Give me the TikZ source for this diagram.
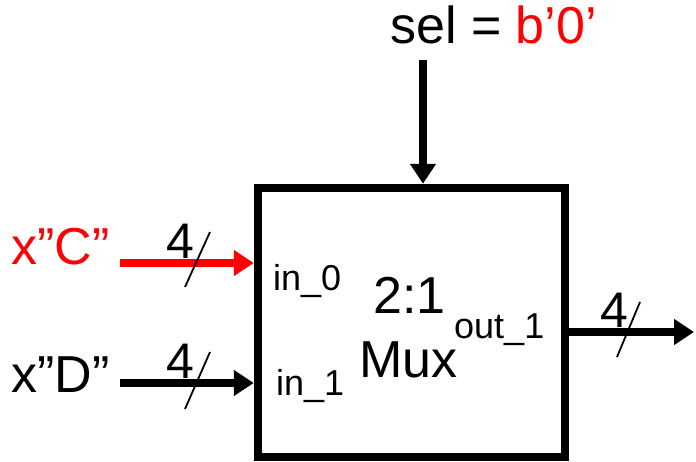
\documentclass[tikz,border=0pt]{standalone}
\usepackage{fontspec}
\setmainfont{Liberation Sans}
\usetikzlibrary{arrows.meta}
\begin{document}
\begin{tikzpicture}[x=1pt,y=-1pt,
  big/.style={font=\fontsize{52}{52}\selectfont, inner sep=0, anchor=base west},
  small/.style={font=\fontsize{36}{36}\selectfont, inner sep=0, anchor=base west},
  buswidth/.style={font=\fontsize{50}{50}\selectfont, inner sep=0, anchor=base west},
  sig/.style={line width=7.5pt, -{Triangle[length=20pt,width=25pt]}},
  slash/.style={line width=1.8pt},
  muxbox/.style={draw, line width=8.5pt, minimum width=307pt, minimum height=269pt, inner sep=0}]
\useasboundingbox (0,0) rectangle (696,461);
% mux block
\node[muxbox] (mux) at (411.5,322.5) {};
\node[small] (in0) at (273,290) {in\_0};
\node[small] (in1) at (276,395) {in\_1};
\node[small] (out1) at (454,338) {out\_1};
\node[big] (ratio) at (373,313) {2:1};
\node[big] (muxlbl) at (359,377) {Mux};
% select
\node[big] (sel) at (390,43) {sel = \textcolor{red}{b’0’}};
\coordinate (selstart) at (423,60);
\draw[sig] (selstart) -- (selstart |- mux.north);
% input C
\node[big, text=red] (xc) at (11,264) {x”C”};
\coordinate (cin) at (120,263);
\draw[sig, red] (cin) -- (cin -| mux.west);
\node[buswidth] (wc) at (166,258) {4};
\draw[slash] (185,287) -- (210,232);
% input D
\node[big] (xd) at (11,392) {x”D”};
\coordinate (din) at (120,383);
\draw[sig] (din) -- (din -| mux.west);
\node[buswidth] (wd) at (166,378) {4};
\draw[slash] (185,409) -- (210,352);
% output
\coordinate (dout) at (694,332);
\draw[sig] (dout -| mux.east) -- (dout);
\node[buswidth] (wo) at (600,327) {4};
\draw[slash] (617,357) -- (640,302);
\end{tikzpicture}
\end{document}
